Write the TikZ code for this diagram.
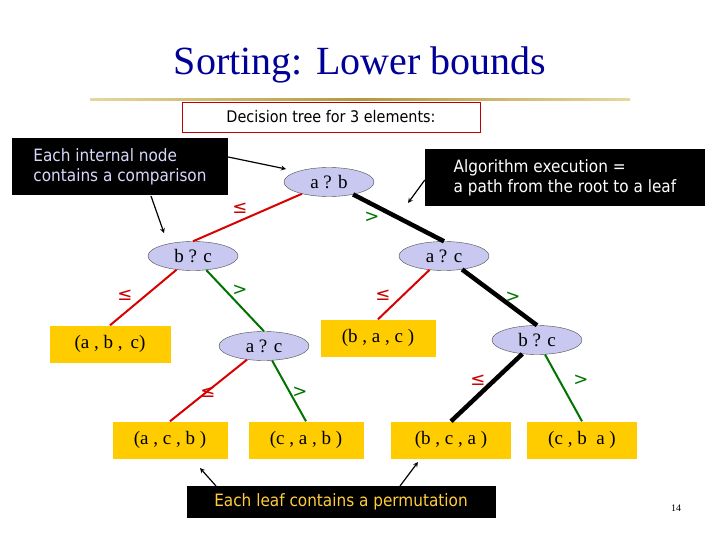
\documentclass[tikz,border=0pt]{standalone}
\usepackage{fontspec}
\setmainfont{Liberation Serif}
\newfontfamily\dvs{DejaVu Sans}
\newfontfamily\dvc{DejaVu Sans Condensed}
\begin{document}
\begin{tikzpicture}[x=1pt,y=-1pt,
 cmp/.style={ellipse,draw=black!70,fill={rgb,255:red,200;green,200;blue,240},minimum width=90pt,minimum height=29pt,inner sep=0pt,font=\fontsize{19}{19}\selectfont},
 leaf/.style={fill={rgb,255:red,255;green,204;blue,0},minimum height=37pt,inner sep=0pt,font=\fontsize{19}{19}\selectfont},
 le/.style={red!85!black,line width=2pt},
 gt/.style={green!45!black,line width=2pt},
 pth/.style={black,line width=4.5pt},
 lbl/.style={font=\dvs\fontsize{18}{18}\selectfont},
 call/.style={fill=black,inner sep=4pt,align=left,font=\dvc\fontsize{17}{20}\selectfont},
 pt/.style={-stealth,line width=1.2pt}]
\useasboundingbox (0,0) rectangle (720,540);
\usetikzlibrary{shapes.geometric}
\node[text={rgb,255:red,0;green,0;blue,153},font=\fontsize{40}{40}\selectfont] (title) at (360,65) {Sorting: Lower bounds};
\shade[left color={rgb,255:red,230;green,215;blue,160},right color={rgb,255:red,230;green,215;blue,160},middle color={rgb,255:red,180;green,150;blue,60}] (90,99) rectangle (630,101);
\node[draw=red!75!black,minimum width=298pt,minimum height=30pt,inner sep=0pt,font=\dvc\fontsize{16}{16}\selectfont] (hdr) at (331,117) {Decision tree for 3 elements:};
\node[call,text={rgb,255:red,215;green,215;blue,250},minimum width=216pt,minimum height=57pt] (c1) at (120,167) {Each internal node\\contains a comparison};
\node[call,text=white,minimum width=280pt,minimum height=57pt] (c2) at (565,178) {Algorithm execution =\\a path from the root to a leaf};
\node[call,text={rgb,255:red,255;green,204;blue,60},minimum width=309pt,minimum height=32pt] (c3) at (341,502) {Each leaf contains a permutation};
\node[font=\fontsize{10}{10}\selectfont] (pg) at (676,508) {14};

\node[cmp] (r) at (329,182) {a ? b};
\node[cmp] (l) at (193,256) {b ? c};
\node[cmp] (rr) at (444,256) {a ? c};
\node[cmp] (lm) at (264,346) {a ? c};
\node[cmp] (rm) at (537,340) {b ? c};
\node[leaf,minimum width=121pt] (abc) at (110,344) {(a , b ,\, c)};
\node[leaf,minimum width=115pt] (bac) at (378,338) {(b , a , c )};
\node[leaf,minimum width=115pt] (acb) at (170,440) {(a , c , b )};
\node[leaf,minimum width=115pt] (cab) at (306,440) {(c , a , b )};
\node[leaf,minimum width=120pt] (bca) at (451,440) {(b , c , a )};
\node[leaf,minimum width=110pt] (cba) at (582,440) {(c , b \ a )};

\draw[le] (r) -- (l.north);
\draw[pth] (r) -- (rr.north);
\draw[le] (l) -- (abc.north);
\draw[gt] (l) -- (lm.north);
\draw[le] (rr) -- (bac.north);
\draw[pth] (rr) -- (rm.north);
\draw[le] (lm) -- (acb.north);
\draw[gt] (lm) -- (cab.north);
\draw[pth] (rm) -- (bca.north);
\draw[gt] (rm) -- (cba.north);

\node[lbl,text=red!80!black] (l1) at (240,208) {≤};
\node[lbl,text=green!45!black] (g1) at (372,217) {>};
\node[lbl,text=red!80!black] (l2) at (125,295) {≤};
\node[lbl,text=green!45!black] (g2) at (240,290) {>};
\node[lbl,text=red!80!black] (l3) at (383,295) {≤};
\node[lbl,text=green!45!black] (g3) at (513,297) {>};
\node[lbl,text=red!80!black] (l4) at (208,392) {≤};
\node[lbl,text=green!45!black] (g4) at (300,392) {>};
\node[lbl,text=red!80!black] (l5) at (478,380) {≤};
\node[lbl,text=green!45!black] (g5) at (581,380) {>};

\coordinate (a1) at (286,169); \coordinate (a2) at (164,233);
\coordinate (a3) at (408,203); \coordinate (a4) at (200,468); \coordinate (a5) at (418,462);
\draw[pt] (c1.east|-157,157) -- (a1);
\draw[pt] (151,196) -- (a2);
\draw[pt] (c2.west|-180,180) -- (a3);
\draw[pt] (216,486) -- (a4);
\draw[pt] (400,486) -- (a5);
\end{tikzpicture}
\end{document}
